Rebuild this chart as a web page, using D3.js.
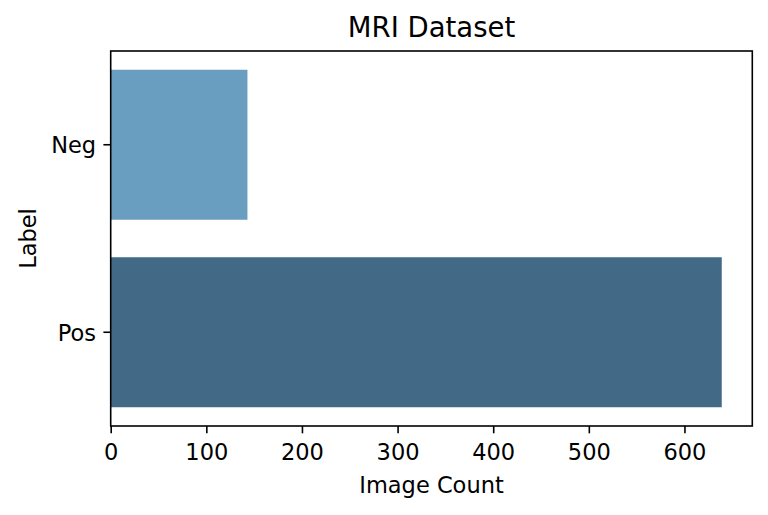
<!DOCTYPE html>
<html>
<head>
<meta charset="utf-8">
<script src="https://cdn.jsdelivr.net/npm/d3@7"></script>
<style>
  body { margin: 0; background: #fff; }
  text { font-family: "DejaVu Sans", sans-serif; fill: #000; }
</style>
</head>
<body>
<svg id="svg" width="768" height="515"></svg>
<script>
// data
var categories = ["Neg", "Pos"];
var counts = [143, 639];
var barColors = ["#6a9ec0", "#426986"];
var xTicks = [0, 100, 200, 300, 400, 500, 600];

var svg = d3.select("#svg");
var margin = { left: 110.7, right: 15.7, top: 51, bottom: 89 };
var W = 768, H = 515;
var x0 = margin.left, x1 = W - margin.right;
var y0 = margin.top, y1 = H - margin.bottom;

// matplotlib pads the max by 5%
var x = d3.scaleLinear().domain([0, d3.max(counts) * 1.05]).range([x0, x1]);
var y = d3.scaleBand().domain(categories).range([y0, y1]).paddingInner(0.2).paddingOuter(0.1);

// bars
svg.selectAll("rect.bar")
  .data(categories)
  .enter().append("rect")
  .attr("class", "bar")
  .attr("x", x(0))
  .attr("y", function(d) { return y(d); })
  .attr("width", function(d, i) { return x(counts[i]) - x(0); })
  .attr("height", y.bandwidth())
  .attr("fill", function(d, i) { return barColors[i]; });

// axes
var xAxis = d3.axisBottom(x).tickValues(xTicks).tickSize(7.3).tickPadding(10.5);
var gx = svg.append("g").attr("transform", "translate(0," + y1 + ")").call(xAxis);
gx.select(".domain").remove();
gx.selectAll("line").attr("stroke", "#000").attr("stroke-width", 1.6);
gx.selectAll("text").style("font-size", "22.5px").style("font-family", "DejaVu Sans");

var yAxis = d3.axisLeft(y).tickSize(7.3).tickPadding(7.3);
var gy = svg.append("g").attr("transform", "translate(" + x0 + ",0)").call(yAxis);
gy.select(".domain").remove();
gy.selectAll("line").attr("stroke", "#000").attr("stroke-width", 1.6);
gy.selectAll("text").style("font-size", "22.5px").style("font-family", "DejaVu Sans").attr("dy", "0.38em");

// frame
svg.append("rect")
  .attr("x", x0).attr("y", y0)
  .attr("width", x1 - x0).attr("height", y1 - y0)
  .attr("fill", "none").attr("stroke", "#000").attr("stroke-width", 1.6);

// labels
svg.append("text")
  .attr("x", (x0 + x1) / 2).attr("y", 37)
  .attr("text-anchor", "middle").style("font-size", "27.5px")
  .text("MRI Dataset");

svg.append("text")
  .attr("x", (x0 + x1) / 2).attr("y", 493)
  .attr("text-anchor", "middle").style("font-size", "22.5px")
  .text("Image Count");

svg.append("text")
  .attr("transform", "translate(36," + (y0 + y1) / 2 + ") rotate(-90)")
  .attr("text-anchor", "middle").style("font-size", "22.5px")
  .text("Label");
</script>
</body>
</html>
